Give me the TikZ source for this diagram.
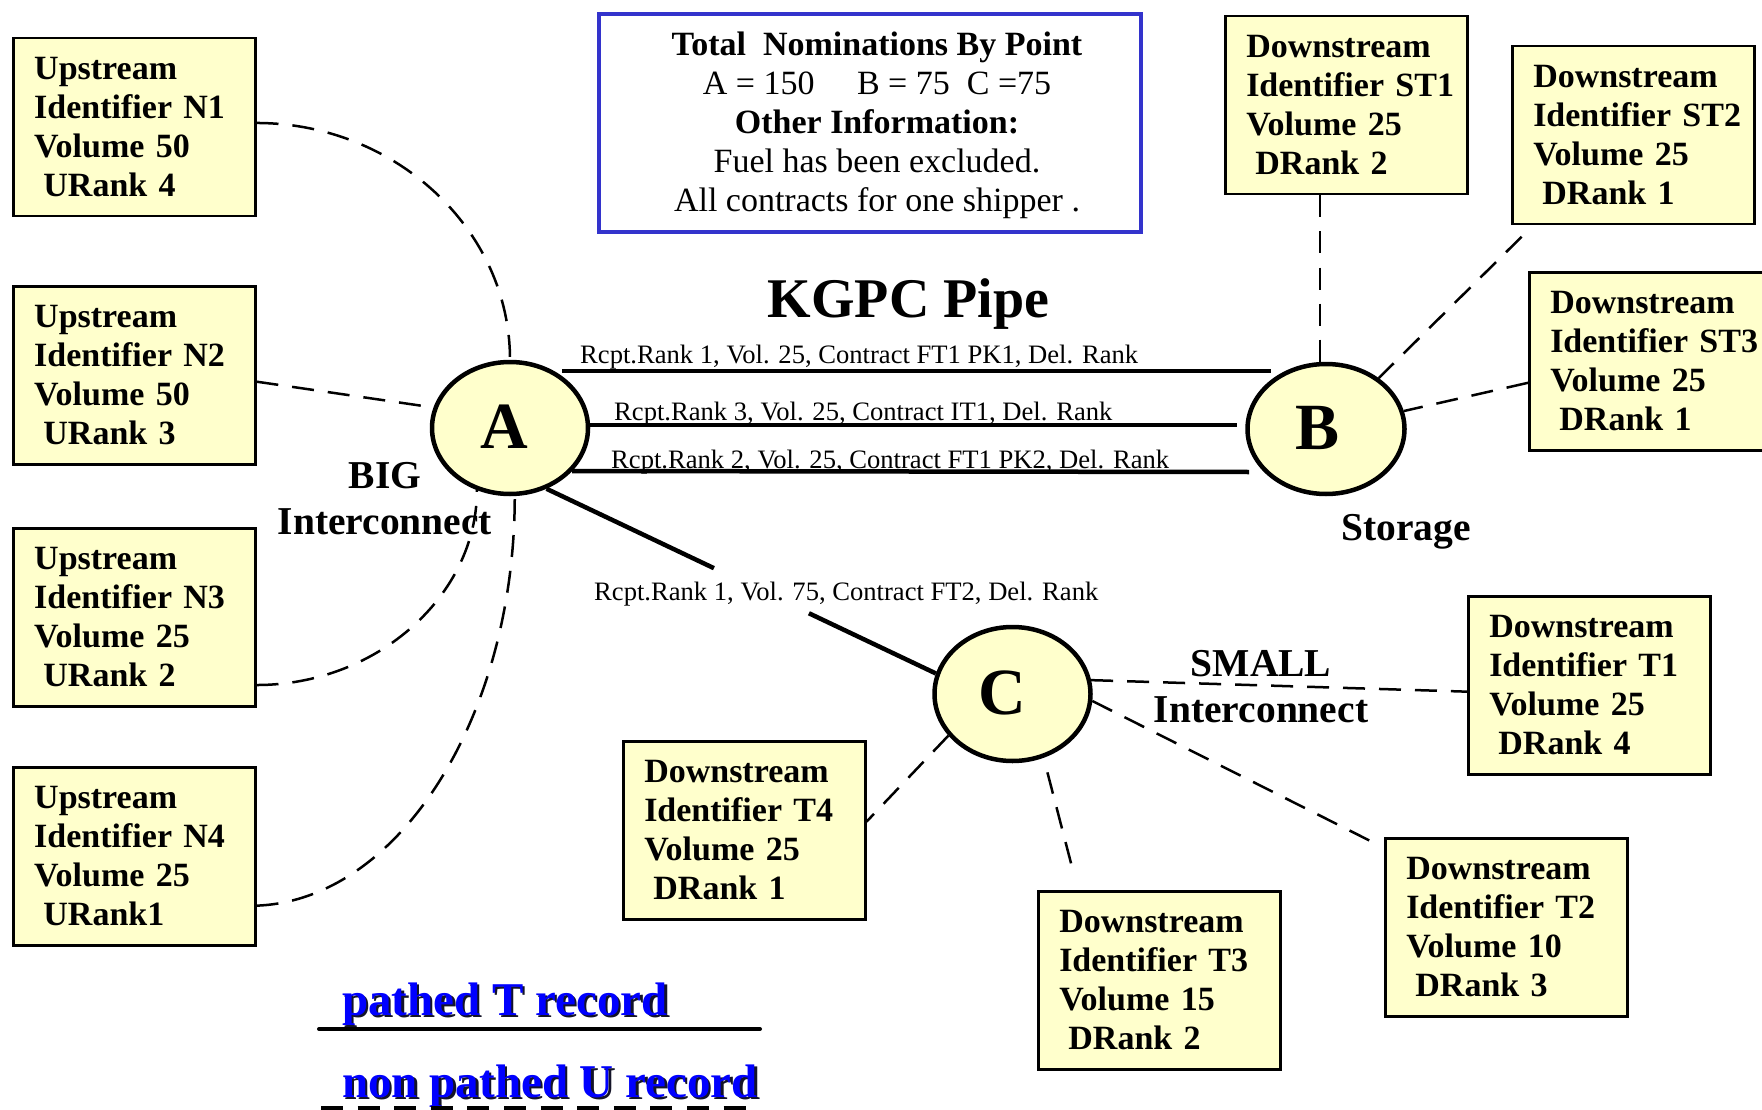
\documentclass[tikz,border=0pt]{standalone}
\usepackage{fontspec}
\setmainfont{Liberation Serif}
\usetikzlibrary{shapes.geometric,calc}
\definecolor{boxfill}{RGB}{255,255,204}
\definecolor{infoblue}{RGB}{51,51,204}
\definecolor{legblue}{RGB}{0,0,255}
\definecolor{legshadow}{RGB}{20,20,40}
\newcommand{\legshadowtext}[1]{\rlap{\hspace{2.5pt}\raisebox{-2.5pt}{\color{legshadow}#1}}{\color{legblue}#1}}
\begin{document}
\begin{tikzpicture}[x=1pt,y=-1pt,
  infobox/.style={draw=black, line width=2.5pt, fill=boxfill, anchor=north west,
    text width=200pt, align=left, inner xsep=21pt, inner ysep=19pt, minimum height=178pt,
    font=\fontsize{34}{39}\selectfont\bfseries},
  hub/.style={ellipse, draw=black, line width=4.5pt, fill=boxfill, inner sep=0pt,
    font=\fontsize{66}{66}\selectfont\bfseries},
  conn/.style={line width=2.5pt, dash pattern=on 22pt off 14pt},
  pipe/.style={line width=4.5pt},
  rlabel/.style={anchor=base west, inner sep=0pt, font=\fontsize{26.6}{30}\selectfont},
  biglabel/.style={align=center, inner sep=0pt, anchor=north, font=\fontsize{39.5}{46}\selectfont\bfseries},
  legtext/.style={anchor=base west, inner sep=0pt, font=\fontsize{47}{50}\selectfont\bfseries},
]
\path[use as bounding box, fill=white] (0,0) rectangle (1762,1110);

% summary box
\node[draw=infoblue, line width=4pt, minimum width=542pt, minimum height=218pt, anchor=north west, inner sep=0pt] (info) at (597,12) {};
\node[anchor=north, align=center, inner sep=0pt, font=\fontsize{34}{39}\selectfont] (infotext) at (877,32)
  {{\bfseries Total\ \ Nominations By Point}\\
   A = 150\ \ \ \ \ B = 75\ \ C =75\\
   {\bfseries Other Information:}\\
   Fuel has been excluded.\\
   All contracts for one shipper .};

\node[anchor=base, inner sep=0pt, font=\fontsize{56}{60}\selectfont\bfseries] (title) at (908.5,317) {KGPC Pipe};

% record boxes
\node[infobox] (n1) at (12,37) {Upstream\\Identifier~N1\\Volume~50\\\hspace*{0.27em}URank~4};
\node[infobox] (n2) at (12,285) {Upstream\\Identifier~N2\\Volume~50\\\hspace*{0.27em}URank~3};
\node[infobox] (n3) at (12,527) {Upstream\\Identifier~N3\\Volume~25\\\hspace*{0.27em}URank~2};
\node[infobox] (n4) at (12,766) {Upstream\\Identifier~N4\\Volume~25\\\hspace*{0.27em}URank1};
\node[infobox] (st1) at (1224,15) {Downstream\\Identifier~ST1\\Volume~25\\\hspace*{0.27em}DRank~2};
\node[infobox] (st2) at (1511,45) {Downstream\\Identifier~ST2\\Volume~25\\\hspace*{0.27em}DRank~1};
\node[infobox] (st3) at (1528,271) {Downstream\\Identifier~ST3\\Volume~25\\\hspace*{0.27em}DRank~1};
\node[infobox] (t1) at (1467,595) {Downstream\\Identifier~T1\\Volume~25\\\hspace*{0.27em}DRank~4};
\node[infobox] (t2) at (1384,837) {Downstream\\Identifier~T2\\Volume~10\\\hspace*{0.27em}DRank~3};
\node[infobox] (t3) at (1037,890) {Downstream\\Identifier~T3\\Volume~15\\\hspace*{0.27em}DRank~2};
\node[infobox] (t4) at (622,740) {Downstream\\Identifier~T4\\Volume~25\\\hspace*{0.27em}DRank~1};

% hubs
\node[hub, minimum width=156pt, minimum height=132pt] (A) at (510,428) {\hspace*{-12pt}\raisebox{3pt}{A}};
\node[hub, minimum width=157pt, minimum height=130pt] (B) at (1326,429) {\hspace*{-18pt}\raisebox{2pt}{B}};
\node[hub, minimum width=156pt, minimum height=134pt] (C) at (1012.5,694) {\hspace*{-20pt}\raisebox{2pt}{C}};

% area labels
\node[biglabel] (big) at (385,462) {BIG\\Interconnect};
\node[biglabel, anchor=base] (storage) at (1406,540) {Storage};
\node[biglabel] (small) at (1261,650) {SMALL\\Interconnect};

% pipes
\draw[pipe] ($(A.center)+(52,-57)$) -- ($(B.center)+(-55,-58)$);
\draw[pipe] ($(A.center)+(80,-3)$) -- ($(B.center)+(-89,-4)$);
\draw[pipe] ($(A.center)+(62,43)$) -- ($(B.center)+(-77,43)$);
\draw[pipe] (A.-59) -- ($(A.-59)!0.43!(C.165)$);
\draw[pipe] ($(A.-59)!0.674!(C.165)$) -- (C.165);

\node[rlabel] (l1) at (580,363) {Rcpt.Rank 1, Vol. 25, Contract FT1 PK1, Del. Rank};
\node[rlabel] (l2) at (614,420) {Rcpt.Rank 3, Vol. 25, Contract IT1, Del. Rank};
\node[rlabel] (l3) at (611,468) {Rcpt.Rank 2, Vol. 25, Contract FT1 PK2, Del. Rank};
\node[rlabel] (lc) at (594,600) {Rcpt.Rank 1, Vol. 75, Contract FT2, Del. Rank};

% upstream connectors
\draw[conn] (n1.2) .. controls +(138,0) and +(0,-131) .. (A.north);
\draw[conn] (n2.-3) -- (A.165);
\draw[conn] (n3.-29) .. controls +(121,0) and +(0,105) .. (A.-118);
\draw[conn] (n4.-22) .. controls +(141,-5) and +(0,223) .. (A.-86);

% storage connectors
\draw[conn] (B.95 |- st1.south) -- (B.95);
\draw[conn, shorten <=16pt] (st2.222) -- (B.44);
\draw[conn] (st3.190) -- (B.13);

% small interconnect connectors
\draw[conn] (C.10) -- (t1.183);
\draw[conn, shorten >=16pt] (C.-5) -- (t2.147);
\draw[conn, shorten <=15pt, shorten >=17pt] (C.-64) -- (t3.132);
\draw[conn] (C.213) -- (t4.4);

% legend
\node[legtext] (legT) at (342,1015) {\legshadowtext{pathed T record}};
\node[legtext] (legU) at (342,1097) {\legshadowtext{non pathed U record}};
\draw[line width=4pt, line cap=round] ($(legT.base west)+(-23,14)$) -- ++(441,0);
\draw[line width=4pt, dash pattern=on 22pt off 14.6pt] ($(legU.base west)+(-21,11)$) -- ++(437,0);
\end{tikzpicture}
\end{document}
